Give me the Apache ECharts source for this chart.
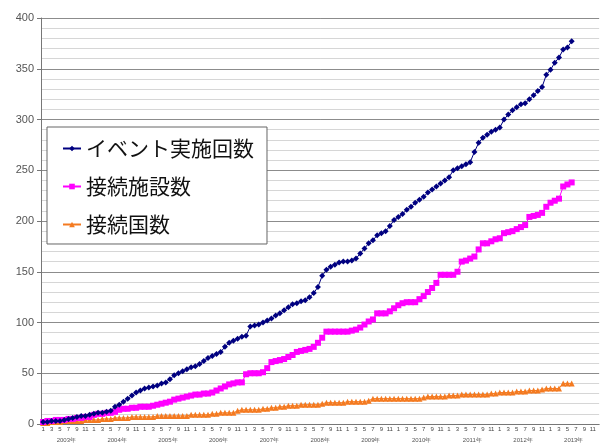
<!DOCTYPE html>
<html>
<head>
<meta charset="utf-8">
<script src="https://cdn.jsdelivr.net/npm/echarts@6/dist/echarts.min.js"></script>
<style>
  html, body { margin: 0; padding: 0; background: #fff; }
  #chart { width: 600px; height: 445px; }
</style>
</head>
<body>
<div id="chart"></div>
<script>
// 年（横軸の下段）
const years = ['2003', '2004', '2005', '2006', '2007', '2008', '2009', '2010', '2011', '2012', '2013']
// 月（横軸の上段、奇数月だけ表示）
const monthLabels = ['1', '', '3', '', '5', '', '7', '', '9', '', '11', '']
const yTicks = [0, 50, 100, 150, 200, 250, 300, 350, 400]

// 2003年1月〜2013年6月
const eventCount = [
  2, 2, 3, 3, 3, 4, 5, 6, 7, 8, 8, 9,
  10, 11, 11, 12, 13, 17, 19, 22, 25, 28, 31, 33,
  35, 36, 37, 38, 40, 41, 44, 48, 50, 52, 54, 56,
  57, 59, 62, 65, 67, 69, 71, 76, 80, 82, 84, 86,
  87, 96, 97, 98, 100, 102, 104, 107, 109, 112, 115, 118,
  119, 121, 122, 125, 129, 135, 146, 152, 155, 157, 159, 160,
  160, 161, 163, 168, 173, 178, 181, 186, 188, 190, 195, 201,
  204, 207, 211, 214, 218, 221, 224, 228, 231, 234, 237, 240,
  243, 250, 252, 254, 256, 258, 268, 277, 282, 285, 288, 290,
  292, 300, 305, 309, 312, 315, 316, 320, 324, 328, 332, 344,
  349, 356, 361, 369, 371, 377
]
const siteCount = [
  2, 3, 3, 4, 4, 4, 5, 5, 6, 6, 7, 7,
  9, 10, 10, 11, 11, 12, 14, 15, 15, 16, 16, 17,
  17, 17, 18, 19, 20, 21, 22, 24, 25, 26, 27, 28,
  29, 29, 30, 30, 31, 33, 35, 37, 39, 40, 41, 41,
  49, 50, 50, 50, 51, 55, 61, 62, 63, 64, 66, 68,
  71, 72, 73, 74, 76, 80, 85, 91, 91, 91, 91, 91,
  91, 92, 93, 95, 98, 101, 103, 109, 109, 109, 111, 114,
  117, 119, 120, 120, 120, 123, 126, 130, 134, 139, 147, 147,
  147, 147, 150, 160, 161, 163, 165, 172, 178, 178, 180, 182,
  183, 188, 189, 190, 192, 194, 196, 204, 205, 206, 208, 214,
  218, 220, 222, 234, 236, 238
]
const countryCount = [
  1, 1, 2, 2, 2, 3, 3, 3, 3, 3, 4, 4,
  4, 4, 5, 5, 5, 6, 6, 6, 6, 7, 7, 7,
  7, 7, 7, 8, 8, 8, 8, 8, 8, 8, 8, 9,
  9, 9, 9, 9, 10, 10, 11, 11, 11, 11, 13, 14,
  14, 14, 14, 14, 15, 15, 16, 16, 17, 17, 18, 18,
  18, 19, 19, 19, 19, 19, 20, 21, 21, 21, 21, 21,
  22, 22, 22, 22, 22, 23, 25, 25, 25, 25, 25, 25,
  25, 25, 25, 25, 25, 25, 26, 27, 27, 27, 27, 27,
  28, 28, 28, 29, 29, 29, 29, 29, 29, 29, 30, 30,
  31, 31, 31, 31, 32, 32, 32, 33, 33, 33, 34, 35,
  35, 35, 35, 40, 40, 40
]

const months = []
years.forEach(() => monthLabels.forEach((m) => months.push(m)))

const chart = echarts.init(document.getElementById('chart'))
chart.setOption({
  animation: false,
  backgroundColor: '#fff',
  textStyle: { fontFamily: '"Liberation Sans", Arial, sans-serif' },
  grid: { left: 41, right: -9, top: 18, bottom: 21 },
  legend: {
    orient: 'vertical',
    left: 47,
    top: 127,
    padding: [11, 13, 9, 15],
    itemGap: 17,
    itemWidth: 18,
    itemHeight: 7,
    backgroundColor: '#fff',
    borderColor: '#666',
    borderWidth: 1,
    borderRadius: 0,
    textStyle: {
      fontSize: 21,
      color: '#111',
      fontFamily: '"Noto Sans CJK JP", sans-serif'
    },
    data: ['イベント実施回数', '接続施設数', '接続国数']
  },
  xAxis: [
    {
      type: 'category',
      data: months,
      boundaryGap: true,
      axisLine: { lineStyle: { color: '#777', width: 1 } },
      axisTick: {
        length: 21,
        interval: (i) => i % 12 === 0,
        lineStyle: { color: '#666' }
      },
      axisLabel: { interval: 0, fontSize: 6, color: '#444', margin: 2 },
      splitLine: { show: false }
    },
    {
      type: 'category',
      data: years.map((y) => y + '年'),
      position: 'bottom',
      offset: 11,
      axisLine: { show: false },
      axisTick: { show: false },
      axisLabel: { fontSize: 6, color: '#555', margin: 2 },
      splitLine: { show: false }
    }
  ],
  yAxis: {
    type: 'value',
    min: yTicks[0],
    max: yTicks[yTicks.length - 1],
    interval: 50,
    axisLine: { show: true, lineStyle: { color: '#777' } },
    axisTick: { show: true, length: 4, lineStyle: { color: '#777' } },
    axisLabel: { fontSize: 11, color: '#555', margin: 7 },
    splitLine: { lineStyle: { color: '#8c8c8c', width: 1 } },
    minorTick: { show: false, splitNumber: 5 },
    minorSplitLine: { show: true, lineStyle: { color: '#d6d6d6', width: 1 } }
  },
  series: [
    {
      name: 'イベント実施回数',
      type: 'line',
      data: eventCount,
      symbol: 'diamond',
      symbolSize: 6,
      color: '#000080',
      lineStyle: { width: 1, color: '#000080' },
      z: 4
    },
    {
      name: '接続施設数',
      type: 'line',
      data: siteCount,
      symbol: 'rect',
      symbolSize: 6,
      color: '#ff00ff',
      lineStyle: { width: 1, color: '#ff00ff' },
      z: 3
    },
    {
      name: '接続国数',
      type: 'line',
      data: countryCount,
      symbol: 'triangle',
      symbolSize: 6,
      color: '#f47a20',
      lineStyle: { width: 1, color: '#f47a20' },
      z: 2
    }
  ]
})
</script>
</body>
</html>
